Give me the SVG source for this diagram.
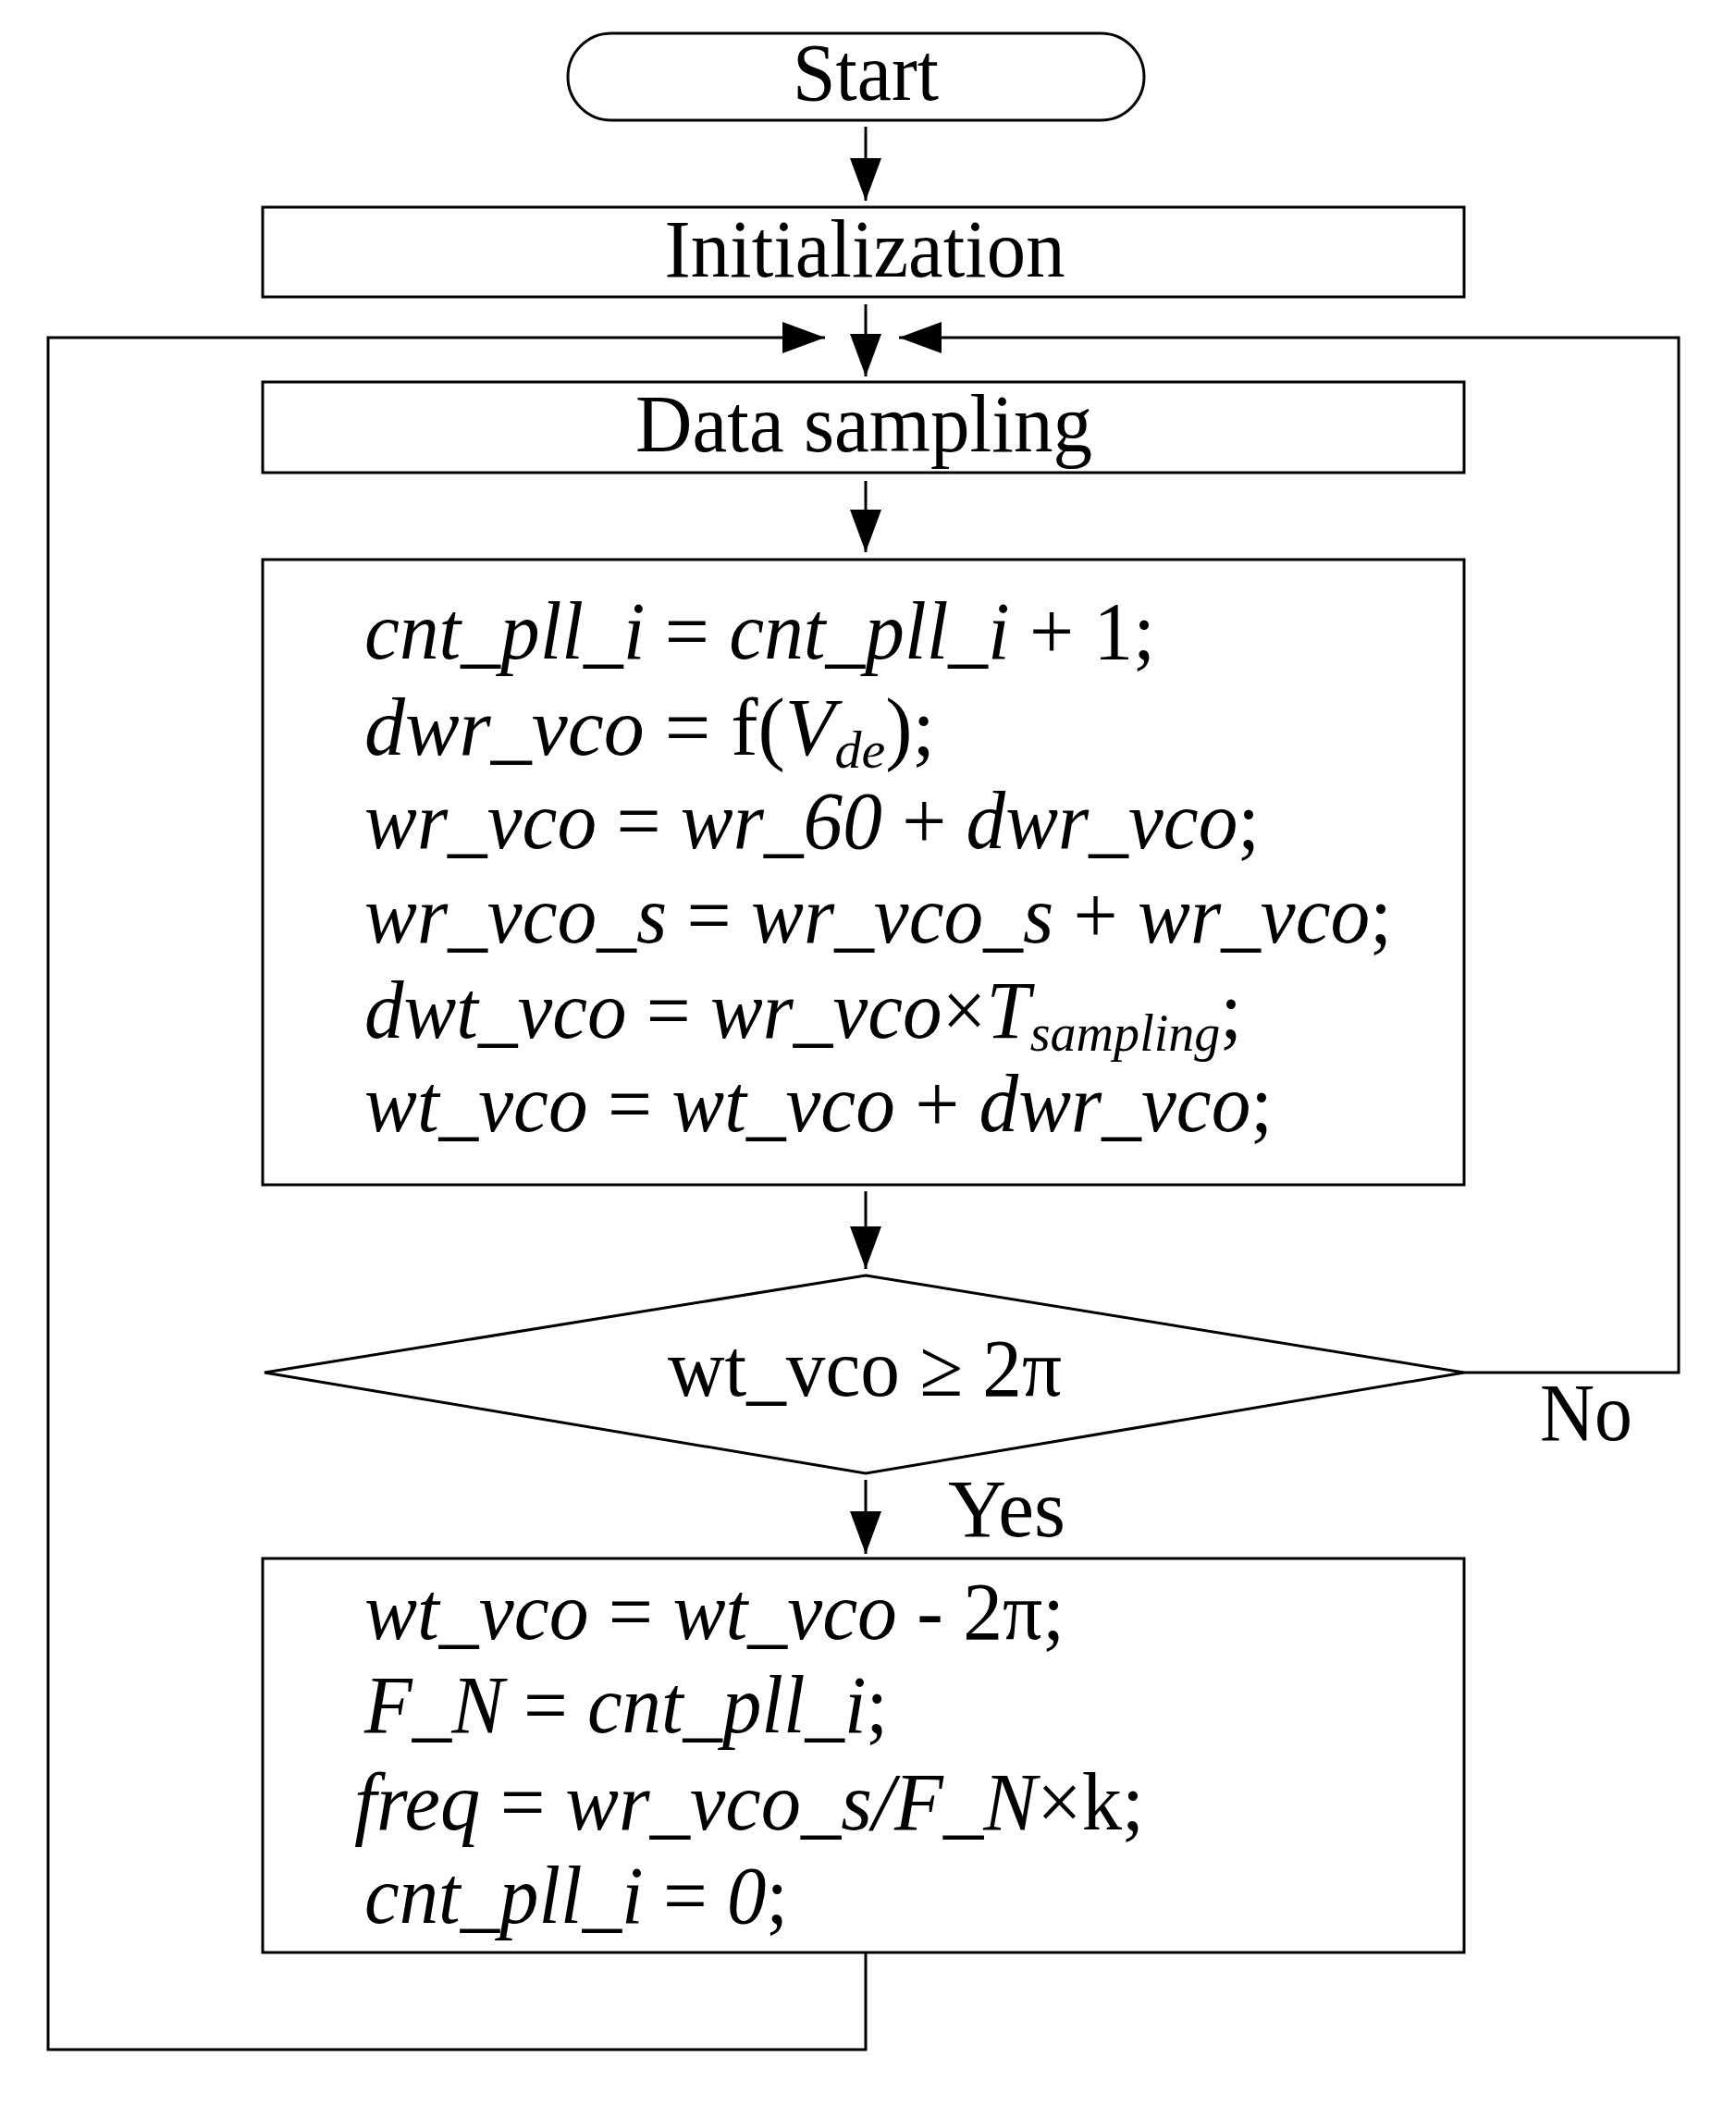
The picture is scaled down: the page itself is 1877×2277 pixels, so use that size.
<svg xmlns="http://www.w3.org/2000/svg" width="1877" height="2277" viewBox="0 0 1877 2277">
<style>
.s{fill:#fff;stroke:#000;stroke-width:3}
.c{fill:none;stroke:#000;stroke-width:3}
.t{font-family:"Liberation Serif","Times New Roman",serif;font-size:88px;fill:#000}
.i{font-style:italic}
.u{font-style:normal}
</style>
<defs>
<marker id="a" markerUnits="userSpaceOnUse" markerWidth="50" markerHeight="40" refX="46" refY="17" orient="auto">
<path d="M0,0 L46,17 L0,34 Z" fill="#000"/>
</marker>
</defs>
<rect width="1877" height="2277" fill="#fff"/>
<g id="start"><rect class="s" x="614" y="36" width="623" height="94" rx="47"/><text class="t" x="936" y="108" text-anchor="middle" textLength="158" lengthAdjust="spacingAndGlyphs">Start</text></g>
<g id="init"><rect class="s" x="284" y="224" width="1299" height="97"/><text class="t" x="935" y="299" text-anchor="middle" textLength="433" lengthAdjust="spacingAndGlyphs">Initialization</text></g>
<g id="sample"><rect class="s" x="284" y="413" width="1299" height="98"/><text class="t" x="934" y="488" text-anchor="middle" textLength="494" lengthAdjust="spacingAndGlyphs">Data sampling</text></g>
<g id="calc"><rect class="s" x="284" y="605" width="1299" height="676"/>
<text class="t i" x="394" y="712" textLength="855" lengthAdjust="spacingAndGlyphs">cnt_pll_i <tspan class="u">=</tspan> cnt_pll_i <tspan class="u">+ 1;</tspan></text>
<text class="t i" x="394" y="816" textLength="617" lengthAdjust="spacingAndGlyphs">dwr_vco <tspan class="u">=  f(</tspan>V<tspan font-size="58" dy="14">de</tspan><tspan class="u" dy="-14">);</tspan></text>
<text class="t i" x="394" y="917" textLength="968" lengthAdjust="spacingAndGlyphs">wr_vco <tspan class="u">=</tspan> wr_60 <tspan class="u">+</tspan> dwr_vco<tspan class="u">;</tspan></text>
<text class="t i" x="394" y="1019" textLength="1111" lengthAdjust="spacingAndGlyphs">wr_vco_s <tspan class="u">=</tspan> wr_vco_s <tspan class="u">+</tspan> wr_vco<tspan class="u">;</tspan></text>
<text class="t i" x="394" y="1122" textLength="949" lengthAdjust="spacingAndGlyphs">dwt_vco <tspan class="u">=</tspan> wr_vco<tspan class="u">×</tspan>T<tspan font-size="58" dy="14">sampling</tspan><tspan class="u" dy="-14">;</tspan></text>
<text class="t i" x="394" y="1223" textLength="982" lengthAdjust="spacingAndGlyphs">wt_vco <tspan class="u">=</tspan> wt_vco <tspan class="u">+</tspan> dwr_vco<tspan class="u">;</tspan></text>
</g>
<g id="decision"><polygon class="s" points="936,1379 1583,1484 936,1593 286,1484"/><text class="t" x="935" y="1509" text-anchor="middle" textLength="426" lengthAdjust="spacingAndGlyphs">wt_vco ≥ 2π</text></g>
<g id="reset"><rect class="s" x="284" y="1685" width="1299" height="426"/>
<text class="t i" x="394" y="1772" textLength="757" lengthAdjust="spacingAndGlyphs">wt_vco <tspan class="u">=</tspan> wt_vco <tspan class="u">- 2π;</tspan></text>
<text class="t i" x="394" y="1873" textLength="566" lengthAdjust="spacingAndGlyphs">F_N <tspan class="u">=</tspan> cnt_pll_i<tspan class="u">;</tspan></text>
<text class="t i" x="383" y="1978" textLength="854" lengthAdjust="spacingAndGlyphs">freq <tspan class="u">=</tspan> wr_vco_s/F_N<tspan class="u">×k;</tspan></text>
<text class="t i" x="394" y="2079" textLength="458" lengthAdjust="spacingAndGlyphs">cnt_pll_i <tspan class="u">=</tspan> 0<tspan class="u">;</tspan></text>
</g>
<g id="connectors">
<line class="c" x1="936" y1="137" x2="936" y2="217" marker-end="url(#a)"/>
<line class="c" x1="936" y1="329" x2="936" y2="407" marker-end="url(#a)"/>
<line class="c" x1="936" y1="520" x2="936" y2="597" marker-end="url(#a)"/>
<line class="c" x1="936" y1="1288" x2="936" y2="1372" marker-end="url(#a)"/>
<line class="c" x1="936" y1="1600" x2="936" y2="1680" marker-end="url(#a)"/>
<polyline class="c" points="1583,1484 1815,1484 1815,365 972,365" marker-end="url(#a)"/>
<polyline class="c" points="936,2111 936,2216 52,2216 52,365 892,365" marker-end="url(#a)"/>
<text class="t" x="1665" y="1557" textLength="100" lengthAdjust="spacingAndGlyphs">No</text>
<text class="t" x="1025" y="1661" textLength="127" lengthAdjust="spacingAndGlyphs">Yes</text>
</g>
</svg>
